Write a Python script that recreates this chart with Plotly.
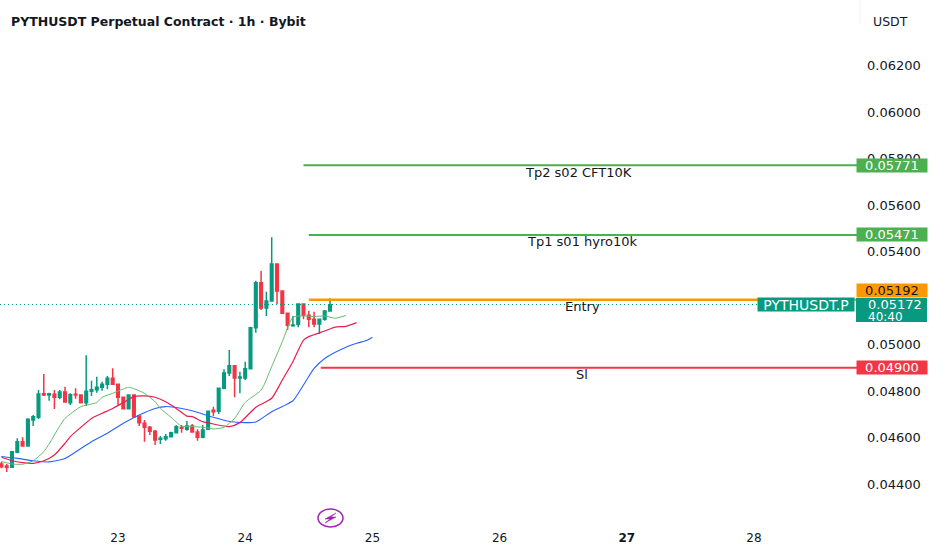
import plotly.graph_objects as go
import pandas as pd

# Candles, 1h bars (prices x 1000)
first_bar = "2025-01-22 02:00"
opens = [44.860, 44.774, 44.717, 45.362, 45.821, 45.634, 46.753, 46.867, 47.885, 47.828, 47.857, 47.728,
         47.957, 47.498, 47.857, 47.828, 47.498, 47.986, 48.057, 48.158, 48.287, 48.545, 48.287, 47.728,
         47.240, 47.828, 46.925, 46.609, 46.437, 46.265, 45.921, 45.950, 46.036, 46.208, 46.437, 46.351,
         46.495, 46.237, 46.007, 46.351, 47.169, 47.126, 48.115, 48.774, 49.090, 48.559, 48.559, 48.961,
         50.724, 52.660, 51.570, 51.871, 53.463, 52.301, 51.341, 50.810, 50.868, 51.742, 51.255, 51.083,
         50.882, 51.083, 51.441]
highs = [44.960, 44.860, 45.419, 45.964, 46.007, 46.824, 46.968, 48.043, 48.731, 47.928, 48.043, 48.043,
         48.186, 47.900, 48.115, 47.828, 49.534, 48.444, 48.616, 48.401, 48.645, 48.975, 48.287, 47.728,
         47.828, 47.828, 46.925, 46.753, 46.495, 46.322, 46.064, 46.150, 46.251, 46.538, 46.538, 46.710,
         46.581, 46.351, 46.537, 47.126, 47.326, 48.115, 48.932, 49.764, 49.090, 48.832, 49.262, 50.767,
         52.746, 53.176, 52.273, 54.610, 53.463, 52.301, 51.369, 51.226, 51.742, 51.742, 51.455, 51.412,
         51.083, 51.484, 51.986]
lows = [44.674, 44.516, 44.717, 45.319, 45.606, 45.606, 46.495, 46.781, 47.785, 47.584, 47.226, 47.642,
        47.527, 47.398, 47.670, 47.470, 47.355, 47.785, 47.928, 48.014, 48.072, 48.258, 47.398, 47.211,
        47.211, 46.867, 46.495, 45.821, 46.107, 45.677, 45.720, 45.864, 46.007, 46.179, 46.208, 46.294,
        46.208, 45.864, 45.964, 46.323, 46.925, 47.011, 48.072, 48.645, 47.728, 47.900, 48.473, 48.961,
        50.509, 51.484, 51.226, 51.871, 51.742, 51.341, 50.624, 50.767, 50.738, 51.083, 50.738, 50.738,
        50.452, 51.025, 51.412]
closes = [44.745, 44.717, 45.390, 45.821, 45.634, 46.781, 46.896, 47.871, 47.828, 47.885, 47.728, 47.957,
          47.527, 47.842, 47.828, 47.498, 47.986, 48.057, 48.158, 48.287, 48.545, 48.287, 47.728, 47.240,
          47.828, 46.896, 46.638, 46.437, 46.265, 45.892, 45.964, 46.036, 46.208, 46.466, 46.394, 46.495,
          46.237, 46.007, 46.323, 47.126, 47.111, 48.115, 48.774, 49.090, 48.559, 48.602, 48.961, 50.724,
          52.660, 51.570, 51.871, 53.463, 52.301, 51.341, 50.825, 50.839, 51.742, 51.255, 51.083, 50.882,
          51.083, 51.441, 51.713]

# Moving average lines: bar number after first_bar, and value
green_bars = [0, 2, 4, 6, 8, 9, 10, 11, 12, 13, 15, 17, 18, 19, 21, 23, 24, 25, 27, 29, 30, 32, 34, 36, 38, 40,
              42, 44, 46, 49, 51, 53, 55, 57, 59, 61, 63, 65]
green_vals = [44.97, 44.86, 44.85, 45.00, 45.39, 45.72, 46.11, 46.49, 46.82, 47.01, 47.33, 47.44, 47.50, 47.73,
              47.90, 48.09, 48.16, 48.10, 47.90, 47.54, 47.25, 46.87, 46.49, 46.47, 46.44, 46.37, 46.44, 46.82,
              47.51, 48.04, 49.05, 50.12, 51.17, 51.23, 51.20, 51.23, 51.13, 51.25]
red_bars = [0, 2, 4, 6, 8, 10, 12, 13, 15, 17, 19, 21, 23, 25, 27, 29, 31, 33, 35, 36, 38, 40, 43, 45, 48, 51,
            53, 55, 57, 58, 61, 63, 65, 67]
red_vals = [45.15, 45.00, 44.92, 44.89, 45.00, 45.25, 45.75, 46.04, 46.44, 46.82, 47.04, 47.25, 47.50, 47.76,
            47.79, 47.73, 47.54, 47.25, 46.92, 46.90, 46.68, 46.58, 46.47, 46.64, 47.30, 47.69, 48.47, 49.26,
            50.19, 50.34, 50.58, 50.75, 50.78, 50.94]
blue_bars = [0, 3, 6, 9, 12, 15, 17, 20, 23, 26, 29, 31, 34, 36, 40, 43, 46, 48, 51, 53, 55, 57, 59, 61, 65, 67,
             69, 70]
blue_vals = [45.18, 45.10, 45.00, 44.95, 45.10, 45.53, 45.82, 46.18, 46.61, 46.97, 47.25, 47.33, 47.25, 47.15,
             46.87, 46.69, 46.64, 46.67, 47.11, 47.33, 47.58, 48.26, 48.97, 49.40, 49.88, 50.05, 50.18, 50.31]

# Price axis and day labels (0.05200 sits under the tags in the reference)
price_ticks = [0.044, 0.046, 0.048, 0.050, 0.054, 0.056, 0.058, 0.060, 0.062]
day_ticks = ["2025-01-23", "2025-01-24", "2025-01-25", "2025-01-26", "2025-01-27", "2025-01-28"]
day_labels = ["23", "24", "25", "26", "<b>27</b>", "28"]

# Drawn levels: label, price, start time
level_names = ["Tp2 s02 CFT10K", "Tp1 s01 hyro10k", "Entry", "Sl"]
level_prices = [0.05771, 0.05471, 0.05192, 0.04900]
level_starts = ["2025-01-24 11:00", "2025-01-24 12:00", "2025-01-24 12:00", "2025-01-24 14:15"]
level_colors = ["#4caf50", "#4caf50", "#ff9800", "#f23645"]
level_widths = [1.8, 1.8, 2.5, 1.8]
caption_shifts = [-2, 2, 2, 1]
tag_shifts = [0, 0, 9, 0]
last_price = 0.05172

W, H = 932, 550
PLOT_R = 860
PLOT_B = 525


def px_x(x):
    return x / PLOT_R


def px_y(y):
    return 1 - y / PLOT_B


base = pd.Timestamp(first_bar)
times = [base + pd.Timedelta(hours=i) for i in range(len(opens))]
view_start = pd.Timestamp("2025-01-23") - pd.Timedelta(hours=118 / 5.3)
view_end = pd.Timestamp("2025-01-23") + pd.Timedelta(hours=(PLOT_R - 118) / 5.3)

fig = go.Figure()

fig.add_trace(go.Candlestick(
    x=times,
    open=[v / 1000 for v in opens],
    high=[v / 1000 for v in highs],
    low=[v / 1000 for v in lows],
    close=[v / 1000 for v in closes],
    increasing=dict(line=dict(color="#089981", width=1.5), fillcolor="#089981"),
    decreasing=dict(line=dict(color="#f23645", width=1.5), fillcolor="#f23645"),
    whiskerwidth=0,
    name="PYTHUSDT.P"
))

for bars, vals, color, width, name in [(blue_bars, blue_vals, "#2962ff", 1.1, "jaw"),
                                       (red_bars, red_vals, "#e91e4f", 1.2, "teeth"),
                                       (green_bars, green_vals, "#66bb6a", 1, "lips")]:
    fig.add_trace(go.Scatter(
        x=[base + pd.Timedelta(hours=b) for b in bars],
        y=[v / 1000 for v in vals],
        mode="lines", name=name,
        line=dict(color=color, width=width, shape="spline", smoothing=0.6)
    ))

# Current price dotted line
fig.add_shape(type="line", xref="paper", yref="y", x0=0, x1=px_x(757), y0=last_price, y1=last_price,
              line=dict(color="#089981", width=1, dash="1px,3px"))

# Level lines with their captions and tags on the axis
for name, price, start, color, width, cap_dx, tag_dy in zip(level_names, level_prices, level_starts, level_colors,
                                                            level_widths, caption_shifts, tag_shifts):
    fig.add_trace(go.Scatter(
        x=[pd.Timestamp(start), view_end], y=[price, price],
        mode="lines", line=dict(color=color, width=width), name=name
    ))
    fig.add_annotation(x="2025-01-26 15:20", y=price, yshift=-7, xshift=cap_dx, text=name, showarrow=False,
                       font=dict(family="DejaVu Sans", size=13, color="#131722"))
    text_color = "#131722" if color == "#ff9800" else "#ffffff"
    fig.add_annotation(x=px_x(855.5), xref="paper", xanchor="left", y=price, yshift=tag_dy, text=f"{price:.5f}",
                       showarrow=False, bgcolor=color, width=70, height=13, borderpad=0,
                       font=dict(family="DejaVu Sans", size=13, color=text_color))

# Last price tags
fig.add_annotation(x=px_x(855), xref="paper", xanchor="right", y=last_price, text="PYTHUSDT.P", showarrow=False,
                   bgcolor="#089981", width=96, height=13, borderpad=0,
                   font=dict(family="DejaVu Sans", size=14, color="#ffffff"))
fig.add_shape(type="rect", xref="paper", yref="paper", x0=px_x(856), x1=px_x(927), y0=px_y(298), y1=px_y(322),
              fillcolor="#089981", line=dict(width=0), layer="above")
fig.add_annotation(x=px_x(867), xref="paper", xanchor="left", y=last_price, text=f"{last_price:.5f}",
                   showarrow=False, font=dict(family="DejaVu Sans", size=13, color="#ffffff"), borderpad=0)
fig.add_annotation(x=px_x(867), xref="paper", xanchor="left", y=px_y(316.5), yref="paper", text="40:40",
                   showarrow=False, font=dict(family="DejaVu Sans", size=12, color="#ffffff"), borderpad=0)

# Chart title and currency
fig.add_annotation(x=px_x(9), xref="paper", xanchor="left", y=px_y(12), yref="paper",
                   text="PYTHUSDT Perpetual Contract · 1h · Bybit", showarrow=False,
                   font=dict(family="DejaVu Sans", size=12.5, color="#131722", weight="bold"))
fig.add_annotation(x=px_x(890), xref="paper", xanchor="center", y=px_y(12), yref="paper", text="USDT",
                   showarrow=False, font=dict(family="DejaVu Sans", size=12.5, color="#131722"))
fig.add_shape(type="line", xref="paper", yref="paper", x0=px_x(860), x1=px_x(860), y0=px_y(0), y1=px_y(24),
              line=dict(color="#f0f3fa", width=1))

# Lightning badge
fig.add_shape(type="circle", xref="paper", yref="paper", x0=px_x(318), x1=px_x(343), y0=px_y(509), y1=px_y(527),
              line=dict(color="#9c27b0", width=1.5), fillcolor="#ffffff")
bolt = [(336, 513), (325, 519), (330, 519), (325, 523), (336, 517), (331, 517)]
fig.add_shape(type="path", xref="paper", yref="paper", fillcolor="#9c27b0", line=dict(color="#9c27b0", width=0.5),
              path="M " + " L ".join(f"{px_x(a):.4f},{px_y(b):.4f}" for a, b in bolt) + " Z")

fig.update_layout(
    width=W, height=H,
    margin=dict(l=0, r=W - PLOT_R, t=0, b=H - PLOT_B),
    paper_bgcolor="#ffffff", plot_bgcolor="#ffffff",
    showlegend=False,
    xaxis=dict(range=[view_start, view_end], rangeslider=dict(visible=False), showgrid=False, zeroline=False,
               showline=False, tickmode="array", tickvals=day_ticks, ticktext=day_labels, ticks="",
               ticklabelstandoff=4,
               tickfont=dict(family="DejaVu Sans", size=12, color="#131722")),
    yaxis=dict(range=[0.05 - (PLOT_B - 344.5) / 23250, 0.05 + 344.5 / 23250], side="right", showgrid=False,
               zeroline=False, showline=False, tickmode="array", tickvals=price_ticks,
               ticktext=[f"{v:.5f}" for v in price_ticks], ticks="", ticklabelstandoff=6,
               tickfont=dict(family="DejaVu Sans", size=13, color="#131722"))
)

# page margin would shift the chart by 8px
fig.write_html("out.html", config=dict(displayModeBar=False), post_script="document.body.style.margin='0';")
